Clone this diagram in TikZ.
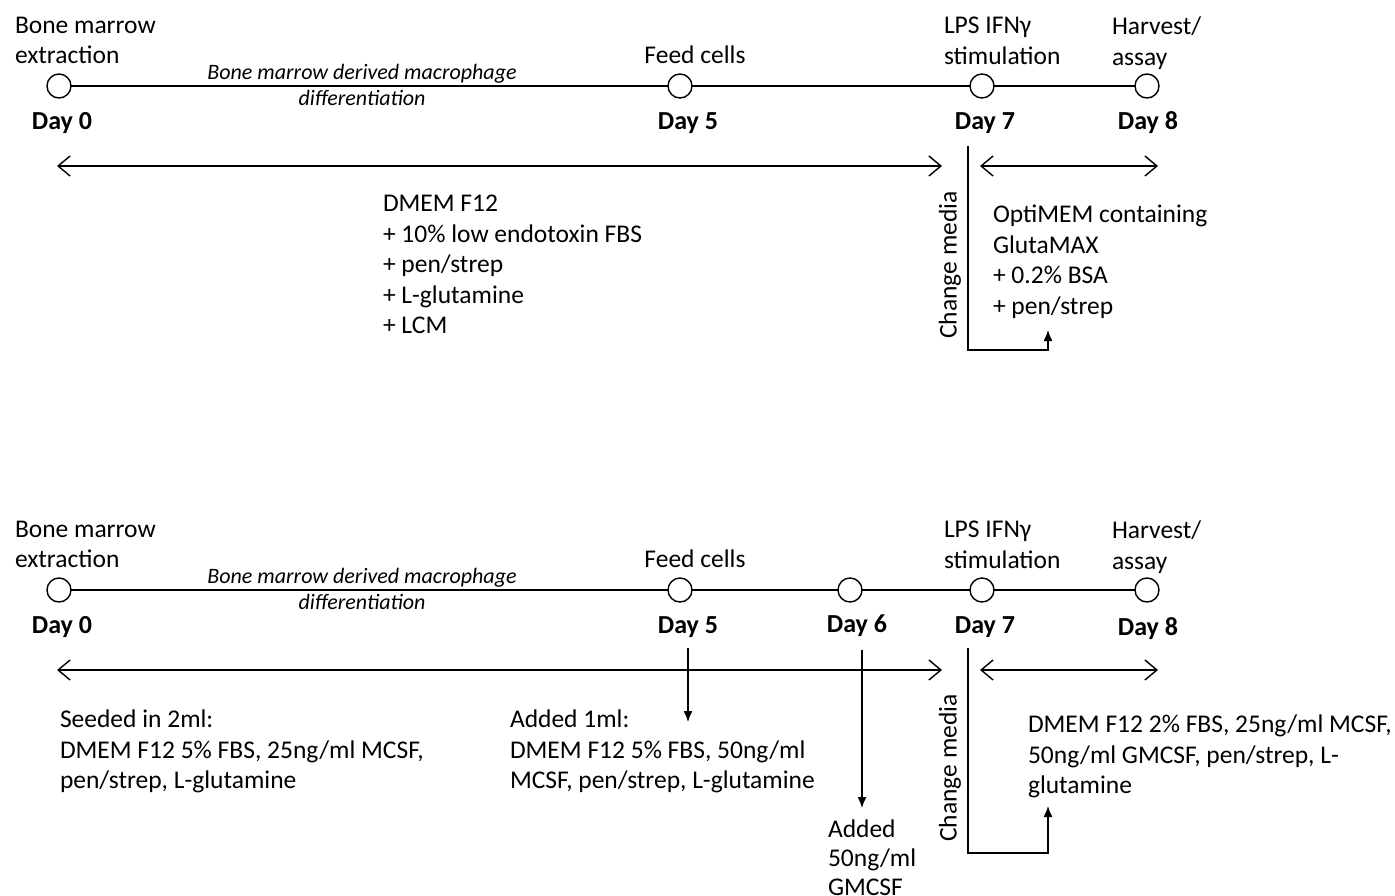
\documentclass[tikz,border=0pt]{standalone}
\usepackage{fontspec}
\setmainfont{Carlito}
\usetikzlibrary{arrows.meta}
\begin{document}
\begin{tikzpicture}[x=1pt,y=-1pt,
  every node/.style={inner sep=0pt,outer sep=0pt},
  lbl/.style={font=\fontsize{25.5}{30.5}\selectfont,align=left,anchor=north west},
  ital/.style={font=\fontsize{22}{26}\selectfont\itshape,align=center},
  day/.style={font=\fontsize{26}{30}\selectfont\bfseries},
  dot/.style={circle,draw,fill=white,minimum size=24pt,line width=1.4pt},
  rot/.style={font=\fontsize{25.5}{30}\selectfont,rotate=90},
  ln/.style={line width=1.4pt},
  span/.style={ln,{Straight Barb[length=12pt,width=20pt]}-{Straight Barb[length=12pt,width=20pt]}},
  tip/.style={ln,-{Latex[length=11pt,width=9pt]}}]
\useasboundingbox (0,0) rectangle (1395,896);

% ===== Top panel =====
\node[lbl] (tbm) at (15,17) {Bone marrow\\extraction};
\node[lbl] (tlps) at (944,17) {LPS IFNγ\\stimulation};
\node[lbl] (thv) at (1112,17) {Harvest/\\assay};
\node[font=\fontsize{25.5}{30}\selectfont] (tfeed) at (695,55) {Feed cells};
\node[ital] (tdiff) at (362,85) {Bone marrow derived macrophage\\differentiation};

\node[dot] (t0) at (59,86) {};
\node[dot] (t5) at (680,86) {};
\node[dot] (t7) at (982,86) {};
\node[dot] (t8) at (1147,86) {};
\draw[ln] (t0) -- (t5) -- (t7) -- (t8);

\node[day] (td0) at (62,123) {Day 0};
\node[day] (td5) at (688,123) {Day 5};
\node[day] (td7) at (985,123) {Day 7};
\node[day] (td8) at (1148,123) {Day 8};

\coordinate (ta1) at (57,166);
\coordinate (ta2) at (942,166);
\coordinate (tb1) at (980,166);
\coordinate (tb2) at (1158,166);
\draw[span] (ta1) -- (ta2);
\draw[span] (tb1) -- (tb2);

\node[lbl] (tdmem) at (383,195) {DMEM F12\\+ 10\% low endotoxin FBS\\+ pen/strep\\+ L-glutamine\\+ LCM};
\node[lbl] (topti) at (993,205) {OptiMEM containing\\GlutaMAX\\+ 0.2\% BSA\\+ pen/strep};
\node[rot] (tcm) at (950,265) {Change media};

\coordinate (tc1) at (968,146);
\coordinate (tc2) at (1048,330);
\draw[tip] (tc1) |- (1048,350) -- (tc2);

% ===== Bottom panel =====
\node[lbl] (bbm) at (15,521) {Bone marrow\\extraction};
\node[lbl] (blps) at (944,521) {LPS IFNγ\\stimulation};
\node[lbl] (bhv) at (1112,521) {Harvest/\\assay};
\node[font=\fontsize{25.5}{30}\selectfont] (bfeed) at (695,559) {Feed cells};
\node[ital] (bdiff) at (362,589) {Bone marrow derived macrophage\\differentiation};

\node[dot] (b0) at (59,590) {};
\node[dot] (b5) at (680,590) {};
\node[dot] (b6) at (850,590) {};
\node[dot] (b7) at (982,590) {};
\node[dot] (b8) at (1147,590) {};
\draw[ln] (b0) -- (b5) -- (b6) -- (b7) -- (b8);

\node[day] (bd0) at (62,627) {Day 0};
\node[day] (bd5) at (688,627) {Day 5};
\node[day] (bd6) at (857,626) {Day 6};
\node[day] (bd7) at (985,627) {Day 7};
\node[day] (bd8) at (1148,629) {Day 8};

\coordinate (ba1) at (57,670);
\coordinate (ba2) at (942,670);
\coordinate (bb1) at (980,670);
\coordinate (bb2) at (1158,670);
\draw[span] (ba1) -- (ba2);
\draw[span] (bb1) -- (bb2);

\node[lbl] (bseed) at (60,710) {Seeded in 2ml:\\DMEM F12 5\% FBS, 25ng/ml MCSF,\\pen/strep, L-glutamine};
\node[lbl] (badd1) at (510,710) {Added 1ml:\\DMEM F12 5\% FBS, 50ng/ml\\MCSF, pen/strep, L-glutamine};
\node[lbl,font=\fontsize{25.5}{29}\selectfont] (badd2) at (828,820) {Added\\50ng/ml\\GMCSF};
\node[lbl] (bfin) at (1028,715) {DMEM F12 2\% FBS, 25ng/ml MCSF,\\50ng/ml GMCSF, pen/strep, L-\\glutamine};
\node[rot] (bcm) at (950,768) {Change media};

\coordinate (bf1) at (688,648);
\coordinate (bf2) at (688,722);
\draw[tip] (bf1) -- (bf2);
\coordinate (bg1) at (862,650);
\coordinate (bg2) at (862,808);
\draw[tip] (bg1) -- (bg2);

\coordinate (bc1) at (968,648);
\coordinate (bc2) at (1048,806);
\draw[tip] (bc1) |- (1048,853) -- (bc2);
\end{tikzpicture}
\end{document}
